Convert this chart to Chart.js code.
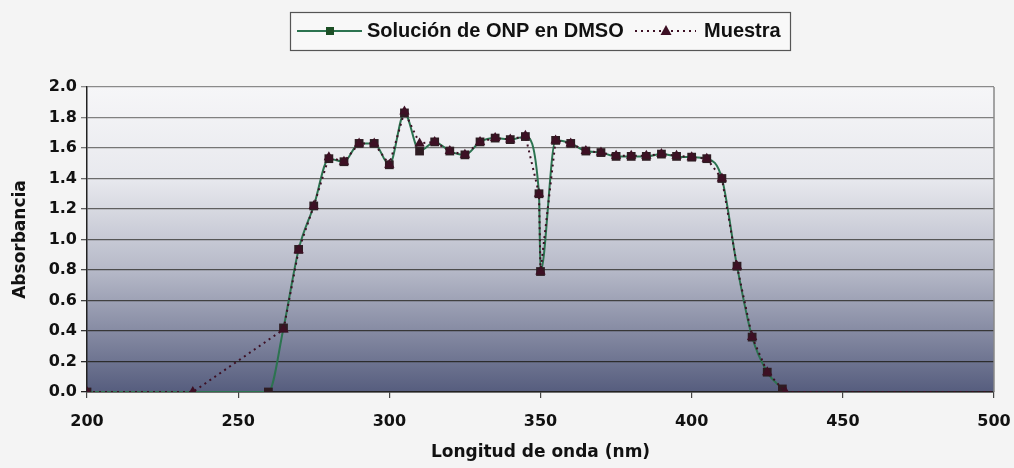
<!DOCTYPE html>
<html>
<head>
<meta charset="utf-8">
<script src="https://cdn.jsdelivr.net/npm/chart.js@4/dist/chart.umd.min.js"></script>
<style>
  html, body { margin: 0; padding: 0; background: #f4f4f4; }
  #wrap { position: relative; width: 1014px; height: 468px; }
  canvas { display: block; }
</style>
</head>
<body>
<div id="wrap"><canvas id="c" width="1014" height="468"></canvas></div>
<script>
// ---- Data ----
const seriesNames = ["Solución de ONP en DMSO", "Muestra"];

const solWavelength = [200, 260, 265, 270, 275, 280, 285, 290, 295, 300, 305, 310, 315, 320, 325, 330, 335, 340, 345, 349.5, 350, 355, 360, 365, 370, 375, 380, 385, 390, 395, 400, 405, 410, 415, 420, 425, 430];
const solAbs        = [0, 0, 0.42, 0.935, 1.22, 1.53, 1.51, 1.63, 1.63, 1.49, 1.83, 1.58, 1.64, 1.58, 1.555, 1.64, 1.665, 1.655, 1.675, 1.30, 0.79, 1.65, 1.63, 1.58, 1.57, 1.545, 1.545, 1.545, 1.56, 1.545, 1.54, 1.53, 1.40, 0.825, 0.36, 0.13, 0.02];

const muWavelength = [200, 235, 265, 270, 275, 280, 285, 290, 295, 300, 305, 310, 315, 320, 325, 330, 335, 340, 345, 349.5, 350, 355, 360, 365, 370, 375, 380, 385, 390, 395, 400, 405, 410, 415, 420, 425, 431, 500];
const muAbs        = [0, 0, 0.41, 0.93, 1.22, 1.54, 1.51, 1.63, 1.63, 1.49, 1.84, 1.63, 1.64, 1.58, 1.555, 1.64, 1.665, 1.655, 1.68, 1.30, 0.79, 1.65, 1.63, 1.58, 1.57, 1.55, 1.55, 1.55, 1.56, 1.55, 1.54, 1.53, 1.40, 0.825, 0.36, 0.13, 0, 0];

const xAxisTitle = "Longitud de onda (nm)";
const yAxisTitle = "Absorbancia";

// ---- Build points ----
const toPts = (xs, ys) => xs.map((x, i) => ({ x: x, y: ys[i] }));

const GREEN = '#2c7350';
const SQUARE = '#2e1c22';
const MAROON = '#3d1024';

const bgPlugin = {
  id: 'plotBg',
  beforeDraw(chart) {
    const { ctx, chartArea: a } = chart;
    ctx.save();
    const g = ctx.createLinearGradient(0, a.top, 0, a.bottom);
    g.addColorStop(0, '#f6f6f8');
    g.addColorStop(0.3, '#e8e9ee');
    g.addColorStop(0.6, '#b6b9c8');
    g.addColorStop(1, '#565d7e');
    ctx.fillStyle = g;
    ctx.fillRect(a.left, a.top, a.right - a.left, a.bottom - a.top);
    ctx.restore();
  },
  afterDatasetsDraw(chart) {
    const { ctx, chartArea: a } = chart;
    ctx.save();
    ctx.strokeStyle = '#888';
    ctx.lineWidth = 1.5;
    ctx.beginPath();
    ctx.moveTo(a.right, a.top);
    ctx.lineTo(a.right, a.bottom);
    ctx.stroke();
    ctx.restore();
  },
  afterDraw(chart) {
    const ctx = chart.ctx;
    ctx.save();
    // legend box
    ctx.fillStyle = '#f8f8f8';
    ctx.fillRect(290, 12, 500, 38);
    ctx.strokeStyle = '#555';
    ctx.lineWidth = 1.2;
    ctx.strokeRect(290.5, 12.5, 500, 38);
    const ly = 31;
    // series 1 sample
    ctx.strokeStyle = GREEN;
    ctx.lineWidth = 2;
    ctx.beginPath(); ctx.moveTo(297, ly); ctx.lineTo(362, ly); ctx.stroke();
    ctx.fillStyle = '#1d4f26';
    ctx.fillRect(326, ly - 4, 8, 8);
    ctx.fillStyle = '#111';
    ctx.font = 'bold 20px "Liberation Sans", Arial, sans-serif';
    ctx.textBaseline = 'middle';
    ctx.fillText(seriesNames[0], 367, ly);
    // series 2 sample
    ctx.strokeStyle = MAROON;
    ctx.setLineDash([2, 4]);
    ctx.beginPath(); ctx.moveTo(635, ly); ctx.lineTo(696, ly); ctx.stroke();
    ctx.setLineDash([]);
    ctx.fillStyle = MAROON;
    ctx.beginPath(); ctx.moveTo(666, ly - 6); ctx.lineTo(660.5, ly + 4); ctx.lineTo(671.5, ly + 4); ctx.closePath(); ctx.fill();
    ctx.fillStyle = '#111';
    ctx.fillText(seriesNames[1], 704, ly);
    ctx.restore();
  }
};

const tickFont = { family: '"DejaVu Sans", sans-serif', size: 16, weight: 'bold' };
const titleFont = { family: '"DejaVu Sans", sans-serif', size: 17, weight: 'bold' };

new Chart(document.getElementById('c'), {
  type: 'line',
  data: {
    datasets: [
      {
        label: seriesNames[1],
        data: toPts(muWavelength, muAbs),
        borderColor: MAROON,
        borderWidth: 2,
        borderDash: [2, 4],
        tension: 0,
        pointStyle: 'triangle',
        pointRadius: (c) => c.dataIndex === muWavelength.length - 1 ? 0 : 6,
        pointBackgroundColor: MAROON,
        pointBorderColor: MAROON,
        pointBorderWidth: 0,
        order: 1
      },
      {
        label: seriesNames[0],
        data: toPts(solWavelength, solAbs),
        borderColor: GREEN,
        borderWidth: 2,
        cubicInterpolationMode: 'monotone',
        pointStyle: 'rect',
        pointRadius: 6.2,
        pointBackgroundColor: SQUARE,
        pointBorderColor: SQUARE,
        pointBorderWidth: 0,
        order: 2
      }
    ]
  },
  options: {
    responsive: false,
    animation: false,
    devicePixelRatio: 1,
    layout: { padding: { left: 0, right: 20, top: 87, bottom: 0 } },
    plugins: { legend: { display: false }, tooltip: { enabled: false } },
    scales: {
      x: {
        type: 'linear',
        min: 200, max: 500,
        ticks: { stepSize: 50, color: '#111', font: tickFont, padding: 14, maxRotation: 0 },
        grid: { drawOnChartArea: false, drawTicks: true, tickLength: 6, color: '#444', lineWidth: 1.2 },
        border: { display: true, color: '#222', width: 1.5 },
        title: { display: true, text: xAxisTitle, color: '#111', font: titleFont, padding: { top: 4, bottom: 5 } },
        afterFit: (s) => { s.height = 76; s.paddingLeft = 0; s.paddingRight = 0; }
      },
      y: {
        min: 0, max: 2.0,
        ticks: { stepSize: 0.2, color: '#111', font: tickFont, padding: 4, callback: (v) => v.toFixed(1) },
        grid: {
          drawTicks: true, tickLength: 6, lineWidth: 1.3,
          color: (c) => {
            const v = c.tick ? c.tick.value : 0;
            const t = v / 2;
            const k = Math.round(0x22 + t * (0x8a - 0x22));
            return 'rgb(' + k + ',' + k + ',' + k + ')';
          }
        },
        border: { display: true, color: '#222', width: 1.5 },
        title: { display: true, text: yAxisTitle, color: '#111', font: titleFont, padding: { top: 10, bottom: 0 } },
        afterFit: (s) => { s.width = 87; s.paddingTop = 0; s.paddingBottom = 0; }
      }
    }
  },
  plugins: [bgPlugin]
});
</script>
</body>
</html>
